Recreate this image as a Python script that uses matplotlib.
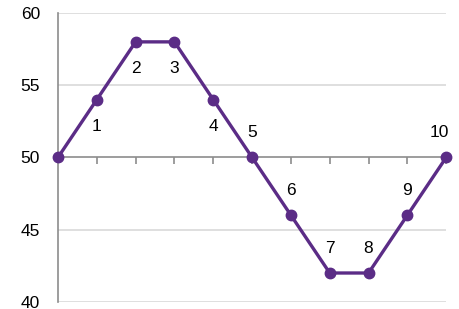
import matplotlib.pyplot as plt

x = [0, 1, 2, 3, 4, 5, 6, 7, 8, 9, 10]
y = [50, 54, 58, 58, 54, 50, 46, 42, 42, 46, 50]
labels = ["", "1", "2", "3", "4", "5", "6", "7", "8", "9", "10"]
yticks = [40, 45, 50, 55, 60]

purple = "#5b2c86"

plt.rcParams['font.family'] = ['Liberation Sans', 'DejaVu Sans']

fig = plt.figure(figsize=(4.6, 3.09), dpi=100)
ax = fig.add_axes([0.126, 0.023, 0.844, 0.935])

# gridlines, except the one at 50 which is the x axis
for v in yticks:
    if v != 50:
        ax.axhline(v, color="#d9d9d9", lw=1.2, zorder=0)

ax.plot(x, y, color=purple, lw=2.4, marker="o", ms=7.5, zorder=3, clip_on=False)

for xi, yi, lab in zip(x, y, labels):
    if not lab:
        continue
    if yi > 50:
        ax.annotate(lab, (xi, yi), xytext=(0, -19), textcoords="offset points",
                    ha="center", va="center", fontsize=12.5)
    else:
        dx = -5 if xi == x[-1] else 0
        ax.annotate(lab, (xi, yi), xytext=(dx, 18), textcoords="offset points",
                    ha="center", va="center", fontsize=12.5)

ax.set_xlim(0, 10)
ax.set_ylim(40, 60)
ax.set_yticks(yticks)
ax.set_xticks(x[1:])
ax.set_xticklabels([])

ax.spines["top"].set_visible(False)
ax.spines["right"].set_visible(False)
ax.spines["bottom"].set_position(("data", 50))
ax.spines["bottom"].set_color("#8c8c8c")
ax.spines["bottom"].set_linewidth(1.2)
ax.spines["left"].set_color("#8c8c8c")
ax.spines["left"].set_linewidth(1.2)

ax.tick_params(axis="x", direction="out", length=5, color="#8c8c8c", width=1.2)
ax.tick_params(axis="y", length=0, pad=13, labelsize=12.5)

fig.savefig("out.png", dpi=100)
